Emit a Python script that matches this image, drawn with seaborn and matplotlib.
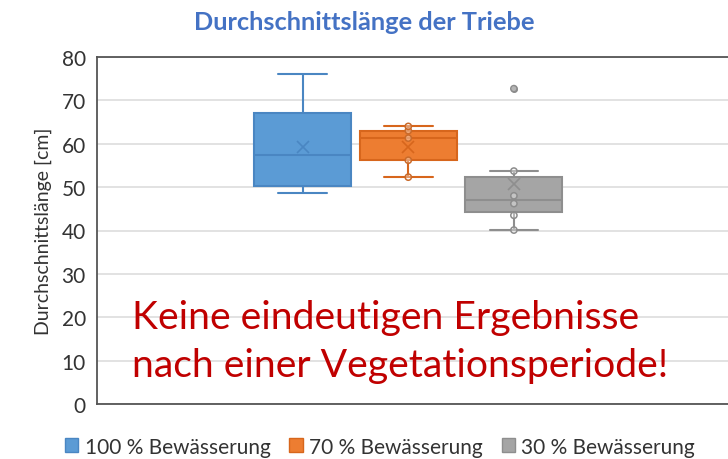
import pandas as pd
import numpy as np
import matplotlib
matplotlib.use('Agg')
import matplotlib.pyplot as plt
import seaborn as sns

# Data
groups = ['100 % Bewässerung', '70 % Bewässerung', '30 % Bewässerung']
laenge_100 = [48.6, 49.5, 50.2, 54.0, 57.4, 60.0, 67.0, 70.0, 76.0]
laenge_70 = [52.3, 56.2, 61.3, 63.0, 64.0]
laenge_30 = [40.1, 43.5, 46.2, 48.0, 53.7, 72.7]
y_ticks = [0, 10, 20, 30, 40, 50, 60, 70, 80]

COLORS = ['#5B9BD5', '#ED7D31', '#A5A5A5']
EDGES = ['#4A86C2', '#D7661C', '#8E8E8E']

df = pd.DataFrame({
    'gruppe': [groups[0]] * len(laenge_100) + [groups[1]] * len(laenge_70) + [groups[2]] * len(laenge_30),
    'laenge': laenge_100 + laenge_70 + laenge_30,
})
df['kat'] = 'Triebe'

sns.set_theme(style="white")
plt.rcParams['font.family'] = ['Lato', 'DejaVu Sans']

fig = plt.figure(figsize=(7.28, 4.60), dpi=100)
ax = fig.add_axes([97 / 728, 55 / 460, 640 / 728, 347 / 460])

sns.boxplot(data=df, x='kat', y='laenge', hue='gruppe', hue_order=groups,
            palette=COLORS, gap=0.08, showmeans=True, whis=1.5,
            meanprops={'marker': 'x', 'markersize': 9, 'markeredgewidth': 1.2},
            flierprops={'marker': 'o', 'markersize': 4},
            ax=ax)

# recolour each box group like the original
for cont, fc, ec in zip(ax.containers, COLORS, EDGES):
    for b in cont.boxes:
        b.set_facecolor(fc)
        b.set_edgecolor(ec)
        b.set_linewidth(1.5)
    for ln in list(cont.whiskers) + list(cont.caps):
        ln.set_color(ec)
        ln.set_linewidth(1.5)
    for ln in cont.medians:
        ln.set_color(ec)
        ln.set_linewidth(1.5)
    for ln in cont.means:
        ln.set_markeredgecolor(ec)
        ln.set_markerfacecolor(ec)
    for ln in cont.fliers:
        ln.set_markerfacecolor(ec)
        ln.set_markeredgecolor(ec)

# inner points (only shown for 70 % and 30 %)
n_before = len(ax.collections)
inner = df[df['gruppe'] != groups[0]]
sns.stripplot(data=inner, x='kat', y='laenge', hue='gruppe', hue_order=groups,
              palette=COLORS, dodge=True, jitter=False, size=4.5, linewidth=1.1,
              legend=False, ax=ax)
for coll in ax.collections[n_before:]:
    ec = coll.get_facecolor()
    coll.set_edgecolor([tuple(np.clip(np.array(c[:3]) * 0.85, 0, 1)) + (1,) for c in ec])
    coll.set_facecolor([(1, 1, 1, 0.35)])

ax.set_ylim(0, 80)
ax.set_yticks(y_ticks)
ax.set_xlim(-0.786, 0.83)
ax.set_xticks([])
ax.set_xlabel('')
ax.set_ylabel('Durchschnittslänge [cm]', fontsize=14, color='#333333', labelpad=7)
ax.tick_params(axis='y', labelsize=15, colors='#333333', length=0, pad=8)
ax.yaxis.grid(True, color='#DDDDDD', linewidth=1.2)
ax.set_axisbelow(True)
for side in ['left', 'top', 'bottom']:
    ax.spines[side].set_color('#555555')
    ax.spines[side].set_linewidth(1.3)
ax.spines['right'].set_visible(False)

fig.suptitle('Durchschnittslänge der Triebe', x=0.5, y=0.975, fontsize=18.3,
             fontweight='bold', color='#4472C4')

ax.text(0.055, 0.081, 'Keine eindeutigen Ergebnisse\nnach einer Vegetationsperiode!',
        transform=ax.transAxes, fontsize=28.2, color='#C00000',
        ha='left', va='baseline', linespacing=1.42)

handles = [matplotlib.patches.Patch(facecolor=c, edgecolor=e) for c, e in zip(COLORS, EDGES)]
leg = fig.legend(handles, groups, loc='center', bbox_to_anchor=(0.522, 0.027), ncol=3,
                 frameon=False, fontsize=15, handlelength=0.65, handleheight=0.65,
                 handletextpad=0.3, columnspacing=0.9)
for t in leg.get_texts():
    t.set_color('#333333')
if ax.get_legend() is not None:
    ax.get_legend().remove()

fig.savefig('out.png', dpi=100)
plt.close(fig)
